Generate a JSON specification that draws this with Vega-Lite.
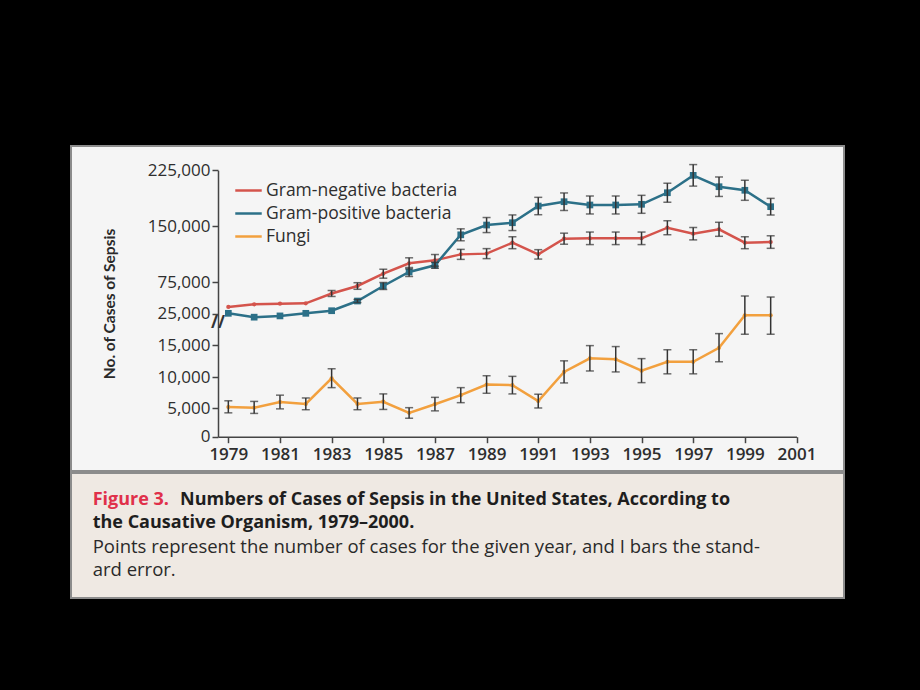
{
  "$schema": "https://vega.github.io/schema/vega-lite/v6.json",
  "background": "black",
  "padding": {"left": 70, "top": 145, "right": 77, "bottom": 95},
  "spacing": 0,
  "config": {
    "font": "Open Sans",
    "concat": {"spacing": 0},
    "axisY": {"titleFont": "Lato", "titleFontSize": 15.5, "titleFontWeight": "bold", "titleColor": "#2a2a2a"}
  },
  "vconcat": [
    {
      "width": 773,
      "height": 325,
      "view": {"fill": "#f5f5f5", "stroke": "#8c8c8c", "strokeWidth": 2},
      "data": {
        "values": [
          {"year": 1979, "organism": "Gram-negative bacteria", "cases": 35600, "lo": null, "hi": null},
          {"year": 1980, "organism": "Gram-negative bacteria", "cases": 39800, "lo": null, "hi": null},
          {"year": 1981, "organism": "Gram-negative bacteria", "cases": 40800, "lo": null, "hi": null},
          {"year": 1982, "organism": "Gram-negative bacteria", "cases": 41400, "lo": null, "hi": null},
          {"year": 1983, "organism": "Gram-negative bacteria", "cases": 56900, "lo": 52200, "hi": 61600},
          {"year": 1984, "organism": "Gram-negative bacteria", "cases": 68700, "lo": 63500, "hi": 73900},
          {"year": 1985, "organism": "Gram-negative bacteria", "cases": 86100, "lo": 80100, "hi": 92100},
          {"year": 1986, "organism": "Gram-negative bacteria", "cases": 100000, "lo": 92600, "hi": 107400},
          {"year": 1987, "organism": "Gram-negative bacteria", "cases": 104000, "lo": 96200, "hi": 111800},
          {"year": 1988, "organism": "Gram-negative bacteria", "cases": 112000, "lo": 105300, "hi": 118700},
          {"year": 1989, "organism": "Gram-negative bacteria", "cases": 113000, "lo": 106300, "hi": 119700},
          {"year": 1990, "organism": "Gram-negative bacteria", "cases": 127600, "lo": 119600, "hi": 135600},
          {"year": 1991, "organism": "Gram-negative bacteria", "cases": 112000, "lo": 105700, "hi": 118300},
          {"year": 1992, "organism": "Gram-negative bacteria", "cases": 133000, "lo": 125600, "hi": 140400},
          {"year": 1993, "organism": "Gram-negative bacteria", "cases": 133500, "lo": 125100, "hi": 141900},
          {"year": 1994, "organism": "Gram-negative bacteria", "cases": 133500, "lo": 125100, "hi": 141900},
          {"year": 1995, "organism": "Gram-negative bacteria", "cases": 133500, "lo": 125100, "hi": 141900},
          {"year": 1996, "organism": "Gram-negative bacteria", "cases": 147700, "lo": 138300, "hi": 157100},
          {"year": 1997, "organism": "Gram-negative bacteria", "cases": 139700, "lo": 131400, "hi": 148000},
          {"year": 1998, "organism": "Gram-negative bacteria", "cases": 145600, "lo": 136200, "hi": 155000},
          {"year": 1999, "organism": "Gram-negative bacteria", "cases": 127600, "lo": 119600, "hi": 135600},
          {"year": 2000, "organism": "Gram-negative bacteria", "cases": 128500, "lo": 120100, "hi": 136900},
          {"year": 1979, "organism": "Gram-positive bacteria", "cases": 25600, "lo": null, "hi": null},
          {"year": 1980, "organism": "Gram-positive bacteria", "cases": 23900, "lo": null, "hi": null},
          {"year": 1981, "organism": "Gram-positive bacteria", "cases": 24300, "lo": null, "hi": null},
          {"year": 1982, "organism": "Gram-positive bacteria", "cases": 25600, "lo": null, "hi": null},
          {"year": 1983, "organism": "Gram-positive bacteria", "cases": 29700, "lo": null, "hi": null},
          {"year": 1984, "organism": "Gram-positive bacteria", "cases": 45000, "lo": 42600, "hi": 47400},
          {"year": 1985, "organism": "Gram-positive bacteria", "cases": 68700, "lo": 63200, "hi": 74200},
          {"year": 1986, "organism": "Gram-positive bacteria", "cases": 88400, "lo": 82400, "hi": 94400},
          {"year": 1987, "organism": "Gram-positive bacteria", "cases": 97400, "lo": 93400, "hi": 101400},
          {"year": 1988, "organism": "Gram-positive bacteria", "cases": 138200, "lo": 130200, "hi": 146200},
          {"year": 1989, "organism": "Gram-positive bacteria", "cases": 151300, "lo": 141200, "hi": 161400},
          {"year": 1990, "organism": "Gram-positive bacteria", "cases": 154400, "lo": 143900, "hi": 164900},
          {"year": 1991, "organism": "Gram-positive bacteria", "cases": 176900, "lo": 165200, "hi": 188600},
          {"year": 1992, "organism": "Gram-positive bacteria", "cases": 182700, "lo": 170900, "hi": 194500},
          {"year": 1993, "organism": "Gram-positive bacteria", "cases": 178300, "lo": 166200, "hi": 190400},
          {"year": 1994, "organism": "Gram-positive bacteria", "cases": 178300, "lo": 166200, "hi": 190400},
          {"year": 1995, "organism": "Gram-positive bacteria", "cases": 179200, "lo": 167100, "hi": 191300},
          {"year": 1996, "organism": "Gram-positive bacteria", "cases": 194800, "lo": 182000, "hi": 207600},
          {"year": 1997, "organism": "Gram-positive bacteria", "cases": 218200, "lo": 203700, "hi": 232700},
          {"year": 1998, "organism": "Gram-positive bacteria", "cases": 202900, "lo": 189800, "hi": 216000},
          {"year": 1999, "organism": "Gram-positive bacteria", "cases": 198100, "lo": 184600, "hi": 211600},
          {"year": 2000, "organism": "Gram-positive bacteria", "cases": 176000, "lo": 164800, "hi": 187200},
          {"year": 1979, "organism": "Fungi", "cases": 5200, "lo": 4200, "hi": 6200},
          {"year": 1980, "organism": "Fungi", "cases": 5100, "lo": 4100, "hi": 6100},
          {"year": 1981, "organism": "Fungi", "cases": 6000, "lo": 4900, "hi": 7100},
          {"year": 1982, "organism": "Fungi", "cases": 5700, "lo": 4750, "hi": 6650},
          {"year": 1983, "organism": "Fungi", "cases": 9800, "lo": 8300, "hi": 11300},
          {"year": 1984, "organism": "Fungi", "cases": 5700, "lo": 4750, "hi": 6650},
          {"year": 1985, "organism": "Fungi", "cases": 6050, "lo": 4800, "hi": 7300},
          {"year": 1986, "organism": "Fungi", "cases": 4200, "lo": 3250, "hi": 5100},
          {"year": 1987, "organism": "Fungi", "cases": 5650, "lo": 4550, "hi": 6750},
          {"year": 1988, "organism": "Fungi", "cases": 7100, "lo": 5900, "hi": 8300},
          {"year": 1989, "organism": "Fungi", "cases": 8800, "lo": 7400, "hi": 10200},
          {"year": 1990, "organism": "Fungi", "cases": 8700, "lo": 7300, "hi": 10100},
          {"year": 1991, "organism": "Fungi", "cases": 6150, "lo": 5050, "hi": 7250},
          {"year": 1992, "organism": "Fungi", "cases": 10800, "lo": 9050, "hi": 12550},
          {"year": 1993, "organism": "Fungi", "cases": 12950, "lo": 10950, "hi": 14950},
          {"year": 1994, "organism": "Fungi", "cases": 12800, "lo": 10800, "hi": 14800},
          {"year": 1995, "organism": "Fungi", "cases": 11000, "lo": 9100, "hi": 12900},
          {"year": 1996, "organism": "Fungi", "cases": 12400, "lo": 10500, "hi": 14300},
          {"year": 1997, "organism": "Fungi", "cases": 12400, "lo": 10500, "hi": 14300},
          {"year": 1998, "organism": "Fungi", "cases": 14600, "lo": 12400, "hi": 18700},
          {"year": 1999, "organism": "Fungi", "cases": 24500, "lo": 18500, "hi": 52900},
          {"year": 2000, "organism": "Fungi", "cases": 24500, "lo": 18500, "hi": 51300}
        ]
      },
      "layer": [
        {
          "mark": {"type": "line", "strokeWidth": 2.5},
          "encoding": {
            "x": {
              "field": "year", "type": "quantitative",
              "scale": {"domain": [1978.6, 2001], "range": [147, 725.5], "nice": false, "zero": false},
              "axis": {
                "values": [1979, 1980, 1981, 1982, 1983, 1984, 1985, 1986, 1987, 1988, 1989, 1990, 1991, 1992, 1993, 1994, 1995, 1996, 1997, 1998, 1999, 2000, 2001],
                "labelExpr": "datum.value % 2 == 1 ? datum.value : ''",
                "offset": -34.3,
                "title": null,
                "grid": false,
                "tickSize": {"condition": {"test": "datum.value % 2 == 1", "value": 6}, "value": -6},
                "labelPadding": 4,
                "labelFlush": false,
                "labelOverlap": false,
                "labelFontSize": 17,
                "labelFontWeight": 600,
                "labelColor": "#2e2e2e",
                "domainColor": "#444",
                "tickColor": "#444",
                "domainWidth": 1.5,
                "tickWidth": 1.5
              }
            },
            "y": {
              "field": "cases", "type": "quantitative",
              "title": "No. of Cases of Sepsis",
              "scale": {
                "domain": [0, 5000, 10000, 15000, 25000, 75000, 150000, 225000],
                "range": [290.7, 262.3, 231, 199.3, 167.7, 136, 80, 24.3],
                "nice": false, "zero": false
              },
              "axis": {
                "values": [0, 5000, 10000, 15000, 25000, 75000, 150000, 225000],
                "format": ",d",
                "offset": -147,
                "titlePadding": 30,
                "grid": false,
                "tickSize": 6,
                "labelPadding": 2,
                "labelOverlap": false,
                "labelFlush": false,
                "labelFontSize": 17,
                "labelColor": "#2e2e2e",
                "domainColor": "#444",
                "tickColor": "#444",
                "domainWidth": 1.5,
                "tickWidth": 1.5
              }
            },
            "color": {
              "field": "organism", "type": "nominal",
              "scale": {
                "domain": ["Gram-negative bacteria", "Gram-positive bacteria", "Fungi"],
                "range": ["#d4544c", "#2c7088", "#f2a03e"]
              },
              "legend": {
                "orient": "none",
                "legendX": 163,
                "legendY": 30,
                "title": null,
                "padding": 0,
                "symbolType": "stroke",
                "symbolSize": 700,
                "symbolStrokeWidth": 2.5,
                "labelFontSize": 17.5,
                "labelLimit": 400,
                "labelColor": "#2e2e2e",
                "labelOffset": 3,
                "rowPadding": -14
              }
            }
          }
        },
        {
          "transform": [{"filter": "datum.organism != 'Gram-positive bacteria'"}],
          "mark": {"type": "point", "filled": true, "opacity": 1, "shape": "circle", "size": 18},
          "encoding": {
            "x": {"field": "year", "type": "quantitative", "scale": {"domain": [1978.6, 2001], "range": [147, 725.5], "nice": false, "zero": false}},
            "y": {"field": "cases", "type": "quantitative", "title": "No. of Cases of Sepsis", "scale": {"domain": [0, 5000, 10000, 15000, 25000, 75000, 150000, 225000], "range": [290.7, 262.3, 231, 199.3, 167.7, 136, 80, 24.3], "nice": false, "zero": false}},
            "color": {"field": "organism", "type": "nominal", "legend": null}
          }
        },
        {
          "transform": [{"filter": "datum.organism == 'Gram-positive bacteria'"}],
          "mark": {"type": "point", "filled": true, "opacity": 1, "shape": "square", "size": 45},
          "encoding": {
            "x": {"field": "year", "type": "quantitative", "scale": {"domain": [1978.6, 2001], "range": [147, 725.5], "nice": false, "zero": false}},
            "y": {"field": "cases", "type": "quantitative", "title": "No. of Cases of Sepsis", "scale": {"domain": [0, 5000, 10000, 15000, 25000, 75000, 150000, 225000], "range": [290.7, 262.3, 231, 199.3, 167.7, 136, 80, 24.3], "nice": false, "zero": false}},
            "color": {"field": "organism", "type": "nominal", "legend": null}
          }
        },
        {
          "transform": [{"filter": "datum.lo != null"}],
          "mark": {
            "type": "errorbar",
            "color": "#333333",
            "ticks": {"size": 8, "thickness": 1.5, "color": "#333333"},
            "rule": {"strokeWidth": 1.5, "color": "#333333"}
          },
          "encoding": {
            "x": {"field": "year", "type": "quantitative", "scale": {"domain": [1978.6, 2001], "range": [147, 725.5], "nice": false, "zero": false}},
            "y": {"field": "lo", "type": "quantitative", "title": "No. of Cases of Sepsis", "scale": {"domain": [0, 5000, 10000, 15000, 25000, 75000, 150000, 225000], "range": [290.7, 262.3, 231, 199.3, 167.7, 136, 80, 24.3], "nice": false, "zero": false}},
            "y2": {"field": "hi"}
          }
        },
        {
          "data": {"values": [{"label": "//"}]},
          "mark": {"type": "text", "fontSize": 17, "fontWeight": "bold", "color": "#333333", "baseline": "middle"},
          "encoding": {
            "x": {"datum": 1978.6, "type": "quantitative", "scale": {"domain": [1978.6, 2001], "range": [147, 725.5], "nice": false, "zero": false}},
            "y": {"datum": 22000, "type": "quantitative", "title": "No. of Cases of Sepsis", "scale": {"domain": [0, 5000, 10000, 15000, 25000, 75000, 150000, 225000], "range": [290.7, 262.3, 231, 199.3, 167.7, 136, 80, 24.3], "nice": false, "zero": false}},
            "text": {"field": "label"}
          }
        }
      ]
    },
    {
      "width": 773,
      "height": 125,
      "view": {"fill": "#efe9e3", "stroke": "#8c8c8c", "strokeWidth": 2},
      "data": {
        "values": [
          {"part": "fig", "text": "Figure 3."},
          {"part": "head1", "text": "Numbers of Cases of Sepsis in the United States, According to"},
          {"part": "head2", "text": "the Causative Organism, 1979–2000."},
          {"part": "body1", "text": "Points represent the number of cases for the given year, and I bars the stand-"},
          {"part": "body2", "text": "ard error."}
        ]
      },
      "layer": [
        {
          "transform": [{"filter": "datum.part == 'fig'"}],
          "mark": {"type": "text", "align": "left", "baseline": "middle", "dx": -364.8, "dy": -36, "fontSize": 18, "fontWeight": "bold", "color": "#e0304a"},
          "encoding": {"text": {"field": "text"}}
        },
        {
          "transform": [{"filter": "datum.part == 'head1'"}],
          "mark": {"type": "text", "align": "left", "baseline": "middle", "dx": -277.5, "dy": -36, "fontSize": 18, "fontWeight": "bold", "color": "#1e1e1e"},
          "encoding": {"text": {"field": "text"}}
        },
        {
          "transform": [{"filter": "datum.part == 'head2'"}],
          "mark": {"type": "text", "align": "left", "baseline": "middle", "dx": -364.8, "dy": -12.5, "fontSize": 18, "fontWeight": "bold", "color": "#1e1e1e"},
          "encoding": {"text": {"field": "text"}}
        },
        {
          "transform": [{"filter": "datum.part == 'body1'"}],
          "mark": {"type": "text", "align": "left", "baseline": "middle", "dx": -364.8, "dy": 11, "fontSize": 18.5, "color": "#2a2a2a"},
          "encoding": {"text": {"field": "text"}}
        },
        {
          "transform": [{"filter": "datum.part == 'body2'"}],
          "mark": {"type": "text", "align": "left", "baseline": "middle", "dx": -364.8, "dy": 34, "fontSize": 18.5, "color": "#2a2a2a"},
          "encoding": {"text": {"field": "text"}}
        }
      ]
    }
  ]
}
